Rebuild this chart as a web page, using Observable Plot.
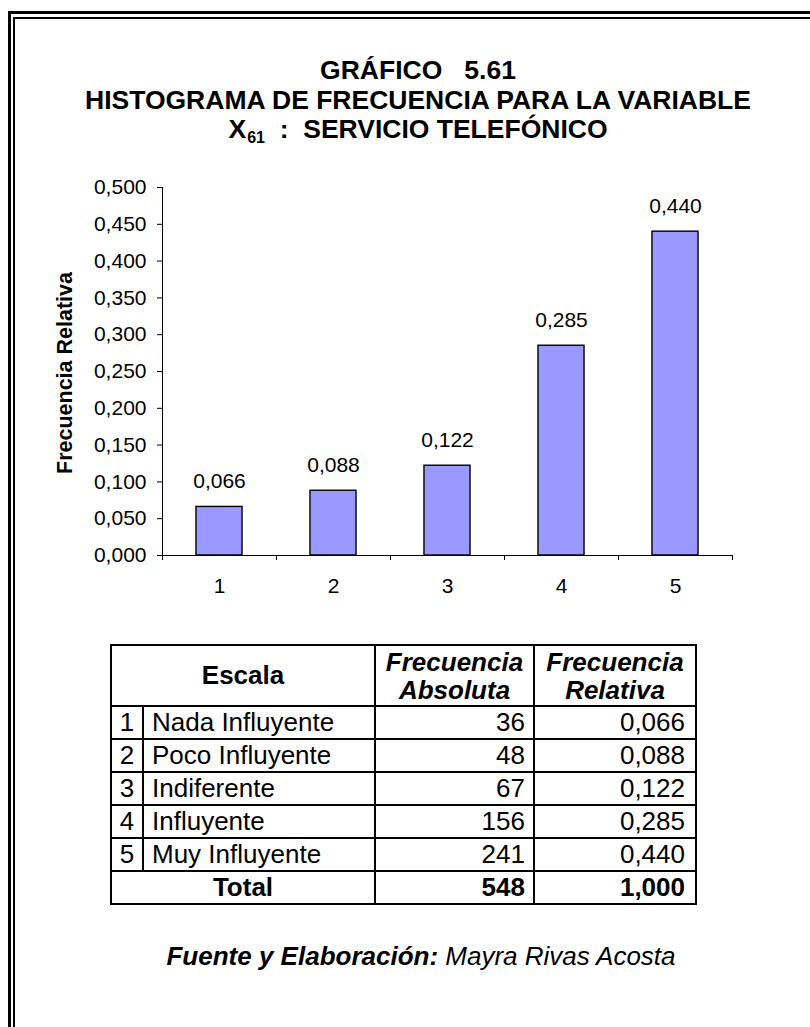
<!DOCTYPE html>
<html>
<head>
<meta charset="utf-8">
<script src="https://cdn.jsdelivr.net/npm/d3@7"></script>
<script src="https://cdn.jsdelivr.net/npm/@observablehq/plot@0.6"></script>
<style>
  html, body { margin: 0; padding: 0; background: #fff; }
  body { position: relative; width: 810px; height: 1027px; overflow: hidden;
         font-family: "Liberation Sans", Arial, Helvetica, sans-serif; color: #000; }
  .frame-outer { position: absolute; left: 8px; top: 11px; width: 900px; height: 1100px;
                 border: 3px solid #000; box-sizing: border-box; }
  .frame-inner { position: absolute; left: 13px; top: 17px; width: 900px; height: 1100px;
                 border: 2px solid #000; box-sizing: border-box; }
  #title { position: absolute; left: 0; width: 836px; top: 56px; text-align: center;
           font-weight: bold; font-size: 26.5px; }
  #title div { height: 29.6px; line-height: 29.6px; white-space: pre; }
  #title sub { font-size: 16px; line-height: 0; vertical-align: -5px; margin-left: 1px; }
  #chart { position: absolute; left: 0; top: 160px; }
  #ylabel { position: absolute; left: 65px; top: 373px; transform: translate(-50%, -50%) rotate(-90deg);
            font-weight: bold; font-size: 21.5px; white-space: nowrap; }
  #tbl { position: absolute; left: 110px; top: 644px; border-collapse: collapse; font-size: 26px; }
  #tbl td, #tbl th { border: 2px solid #000; padding: 0 8px; line-height: 29px; }
  #tbl th { font-weight: bold; text-align: center; height: 59px; }
  #tbl th.it { font-style: italic; line-height: 28px; }
  #tbl td { height: 31px; }
  #tbl td.n { text-align: center; padding: 0; }
  #tbl td.r { text-align: right; }
  #tbl td.r2 { text-align: right; padding-right: 10px; }
  #tbl tr.total td { font-weight: bold; }
  #footer { position: absolute; left: 0; width: 842px; top: 941px; text-align: center;
            font-size: 26px; line-height: 30px; font-style: italic; white-space: nowrap; }
</style>
</head>
<body>
<div class="frame-outer"></div>
<div class="frame-inner"></div>
<div id="title"></div>
<div id="chart"></div>
<div id="ylabel"></div>
<table id="tbl"></table>
<div id="footer"></div>
<script>
// Scale values (1..5), their names, absolute counts and relative frequencies
const categories = [1, 2, 3, 4, 5];
const scaleNames = ["Nada Influyente", "Poco Influyente", "Indiferente", "Influyente", "Muy Influyente"];
const absoluteFreq = [36, 48, 67, 156, 241];
const relativeFreq = [0.066, 0.088, 0.122, 0.285, 0.440];
const totalAbsolute = 548;
const totalRelative = 1.000;

// Axis ticks
const yTicks = [0, 0.05, 0.1, 0.15, 0.2, 0.25, 0.3, 0.35, 0.4, 0.45, 0.5];
const xBoundaries = [0.5, 1.5, 2.5, 3.5, 4.5, 5.5];

const FONT = '"Liberation Sans", Arial, Helvetica, sans-serif';
const fmt3 = d3.format(".3f");
const comma = v => fmt3(v).replace(".", ",");

const rows = categories.map((c, i) => ({cat: c, name: scaleNames[i], abs: absoluteFreq[i], rel: relativeFreq[i]}));

// Headings
const titleLines = [
  "GRÁFICO   5.61",
  "HISTOGRAMA DE FRECUENCIA PARA LA VARIABLE",
  "X<sub>61</sub>  :  SERVICIO TELEFÓNICO"
];
document.getElementById("title").innerHTML = titleLines.map(t => `<div>${t}</div>`).join("");
document.getElementById("ylabel").textContent = "Frecuencia Relativa";

// Bar chart
const halfBar = 0.202;
const chart = Plot.plot({
  width: 810,
  height: 450,
  marginLeft: 162,
  marginRight: 78,
  marginTop: 27,
  marginBottom: 55,
  style: {fontFamily: FONT, fontSize: "21px", color: "#000", background: "transparent", overflow: "visible"},
  x: {type: "linear", domain: [0.5, 5.5]},
  y: {domain: [0, 0.5]},
  marks: [
    Plot.rect(rows, {
      x1: d => d.cat - halfBar, x2: d => d.cat + halfBar,
      y1: 0, y2: "rel",
      fill: "#9999FF", stroke: "#000", strokeWidth: 1.4
    }),
    Plot.text(rows, {
      x: "cat", y: "rel", text: d => comma(d.rel),
      lineAnchor: "bottom", dy: -19, fontSize: 21, fill: "#000"
    }),
    Plot.axisY({ticks: yTicks, tickFormat: comma, tickSize: 5, tickPadding: 11, label: null, fontSize: 21}),
    Plot.ruleX([0.5], {y1: 0, y2: 0.5, stroke: "#000"}),
    Plot.ruleY([0], {x1: 0.5, x2: 5.5, stroke: "#000"}),
    Plot.axisX({ticks: xBoundaries, tickSize: 5, tickFormat: () => "", label: null}),
    Plot.axisX({ticks: categories, tickSize: 0, tickPadding: 23, tickFormat: d => String(d), label: null, fontSize: 21})
  ]
});
document.getElementById("chart").appendChild(chart);

// Frequency table
const tbl = document.getElementById("tbl");
const colgroup = document.createElement("colgroup");
[32, 232, 159, 162].forEach(w => {
  const col = document.createElement("col");
  col.style.width = w + "px";
  colgroup.appendChild(col);
});
tbl.appendChild(colgroup);

let html = '<tr><th colspan="2">Escala</th><th class="it">Frecuencia<br>Absoluta</th><th class="it">Frecuencia<br>Relativa</th></tr>';
rows.forEach(r => {
  html += `<tr><td class="n">${r.cat}</td><td>${r.name}</td><td class="r">${r.abs}</td><td class="r2">${comma(r.rel)}</td></tr>`;
});
html += `<tr class="total"><td colspan="2" style="text-align:center">Total</td><td class="r">${totalAbsolute}</td><td class="r2">${comma(totalRelative)}</td></tr>`;
tbl.insertAdjacentHTML("beforeend", html);

document.getElementById("footer").innerHTML =
  '<b>Fuente y Elaboración:</b> Mayra Rivas Acosta';
</script>
</body>
</html>
